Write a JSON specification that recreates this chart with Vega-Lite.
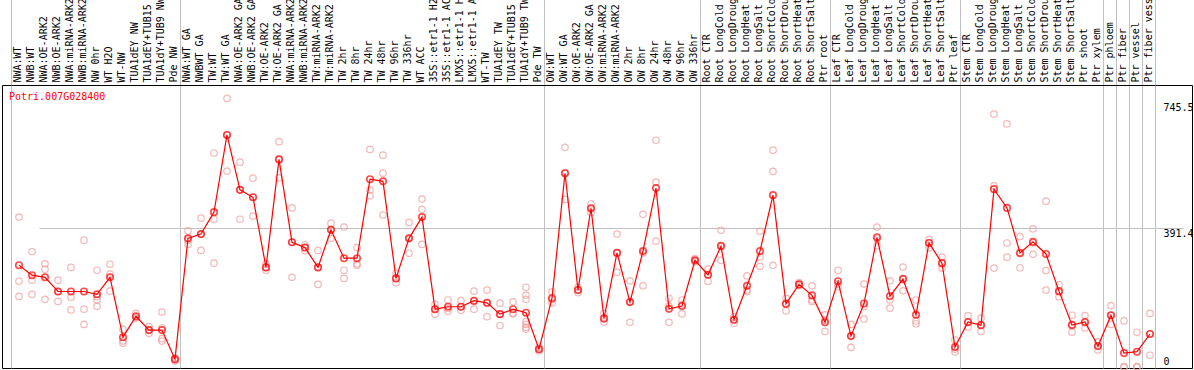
{
  "$schema": "https://vega.github.io/schema/vega-lite/v6.json",
  "autosize": "none",
  "padding": {"left": 2, "top": 85, "right": 2, "bottom": 2},
  "width": 1190,
  "height": 283,
  "background": "white",
  "config": {
    "view": {"stroke": "#000000", "strokeWidth": 1},
    "font": "DejaVu Sans Mono"
  },
  "datasets": {
    "means": [
      {"c": "NWA:WT", "v": 287}, {"c": "NWB:WT", "v": 259}, {"c": "NWA:OE-ARK2", "v": 253}, {"c": "NWB:OE-ARK2", "v": 213},
      {"c": "NWA:miRNA-ARK2", "v": 213}, {"c": "NWB:miRNA-ARK2", "v": 213}, {"c": "NW 0hr", "v": 205}, {"c": "WT H2O", "v": 253},
      {"c": "WT-NW", "v": 84}, {"c": "TUA1dEY NW", "v": 143}, {"c": "TUA1dEY+TUB15 NW", "v": 104}, {"c": "TUA1dY+TUB9 NW", "v": 104},
      {"c": "Pde NW", "v": 22}, {"c": "NWA:WT GA", "v": 363}, {"c": "NWBWT GA", "v": 375}, {"c": "TW:WT", "v": 437},
      {"c": "TW:WT GA", "v": 655}, {"c": "NWA:OE-ARK2 GA", "v": 500}, {"c": "NWB:OE-ARK2 GA", "v": 479}, {"c": "TW:OE-ARK2", "v": 281},
      {"c": "TW:OE-ARK2 GA", "v": 586}, {"c": "NWA:miRNA-ARK2 GA", "v": 352}, {"c": "NWB:miRNA-ARK2 GA", "v": 337}, {"c": "TW:miRNA-ARK2", "v": 281},
      {"c": "TW:miRNA-ARK2 GA", "v": 387}, {"c": "TW 2hr", "v": 307}, {"c": "TW 8hr", "v": 307}, {"c": "TW 24hr", "v": 530},
      {"c": "TW 48hr", "v": 524}, {"c": "TW 96hr", "v": 250}, {"c": "TW 336hr", "v": 363}, {"c": "WT ACC", "v": 423},
      {"c": "35S::etr1-1 H2O", "v": 163}, {"c": "35S::etr1-1 ACC", "v": 170}, {"c": "LMX5::etr1-1 H2O", "v": 170}, {"c": "LMX5::etr1-1 ACC", "v": 187},
      {"c": "WT-TW", "v": 181}, {"c": "TUA1dEY TW", "v": 149}, {"c": "TUA1dEY+TUB15 TW", "v": 163}, {"c": "TUA1dY+TUB9 TW", "v": 153},
      {"c": "Pde TW", "v": 50}, {"c": "OW:WT", "v": 194}, {"c": "OW:WT GA", "v": 547}, {"c": "OW:OE-ARK2", "v": 217},
      {"c": "OW:OE-ARK2 GA", "v": 448}, {"c": "OW:miRNA-ARK2", "v": 137}, {"c": "OW:miRNA-ARK2 GA", "v": 322}, {"c": "OW 2hr", "v": 183},
      {"c": "OW 8hr", "v": 327}, {"c": "OW 24hr", "v": 505}, {"c": "OW 48hr", "v": 164}, {"c": "OW 96hr", "v": 172},
      {"c": "OW 336hr", "v": 301}, {"c": "Root CTR", "v": 260}, {"c": "Root LongCold", "v": 341}, {"c": "Root LongDrought", "v": 133},
      {"c": "Root LongHeat", "v": 229}, {"c": "Root LongSalt", "v": 327}, {"c": "Root ShortCold", "v": 485}, {"c": "Root ShortDrought", "v": 178},
      {"c": "Root ShortHeat", "v": 233}, {"c": "Root ShortSalt", "v": 202}, {"c": "Ptr root", "v": 126}, {"c": "Leaf CTR", "v": 242},
      {"c": "Leaf LongCold", "v": 87}, {"c": "Leaf LongDrought", "v": 179}, {"c": "Leaf LongHeat", "v": 366}, {"c": "Leaf LongSalt", "v": 200},
      {"c": "Leaf ShortCold", "v": 248}, {"c": "Leaf ShortDrought", "v": 147}, {"c": "Leaf ShortHeat", "v": 350}, {"c": "Leaf ShortSalt", "v": 293},
      {"c": "Ptr leaf", "v": 56}, {"c": "Stem CTR", "v": 127}, {"c": "Stem LongCold", "v": 118}, {"c": "Stem LongDrought", "v": 502},
      {"c": "Stem LongHeat", "v": 449}, {"c": "Stem LongSalt", "v": 322}, {"c": "Stem ShortCold", "v": 353}, {"c": "Stem ShortDrought", "v": 319},
      {"c": "Stem ShortHeat", "v": 214}, {"c": "Stem ShortSalt", "v": 118}, {"c": "Ptr shoot", "v": 127}, {"c": "Ptr xylem", "v": 59},
      {"c": "Ptr phloem", "v": 146}, {"c": "Ptr fiber", "v": 39}, {"c": "Ptr vessel", "v": 43}, {"c": "Ptr fiber vessel", "v": 93}
    ],
    "reps": [
      {"c": "NWA:WT", "v": 423}, {"c": "NWA:WT", "v": 242}, {"c": "NWA:WT", "v": 199},
      {"c": "NWB:WT", "v": 326}, {"c": "NWB:WT", "v": 245}, {"c": "NWB:WT", "v": 205},
      {"c": "NWA:OE-ARK2", "v": 291}, {"c": "NWA:OE-ARK2", "v": 276}, {"c": "NWA:OE-ARK2", "v": 191},
      {"c": "NWB:OE-ARK2", "v": 245}, {"c": "NWB:OE-ARK2", "v": 213}, {"c": "NWB:OE-ARK2", "v": 185},
      {"c": "NWA:miRNA-ARK2", "v": 281}, {"c": "NWA:miRNA-ARK2", "v": 197}, {"c": "NWA:miRNA-ARK2", "v": 161},
      {"c": "NWB:miRNA-ARK2", "v": 358}, {"c": "NWB:miRNA-ARK2", "v": 163}, {"c": "NWB:miRNA-ARK2", "v": 120},
      {"c": "NW 0hr", "v": 273}, {"c": "NW 0hr", "v": 198}, {"c": "NW 0hr", "v": 189}, {"c": "NW 0hr", "v": 171},
      {"c": "WT H2O", "v": 290}, {"c": "WT H2O", "v": 262}, {"c": "WT H2O", "v": 214},
      {"c": "WT-NW", "v": 106}, {"c": "WT-NW", "v": 73}, {"c": "WT-NW", "v": 67},
      {"c": "TUA1dEY NW", "v": 151}, {"c": "TUA1dEY NW", "v": 140}, {"c": "TUA1dEY NW", "v": 138},
      {"c": "TUA1dEY+TUB15 NW", "v": 114}, {"c": "TUA1dEY+TUB15 NW", "v": 104}, {"c": "TUA1dEY+TUB15 NW", "v": 95},
      {"c": "TUA1dY+TUB9 NW", "v": 155}, {"c": "TUA1dY+TUB9 NW", "v": 110}, {"c": "TUA1dY+TUB9 NW", "v": 80}, {"c": "TUA1dY+TUB9 NW", "v": 73},
      {"c": "Pde NW", "v": 25}, {"c": "Pde NW", "v": 20}, {"c": "Pde NW", "v": 17},
      {"c": "NWA:WT GA", "v": 384}, {"c": "NWA:WT GA", "v": 358}, {"c": "NWA:WT GA", "v": 346},
      {"c": "NWBWT GA", "v": 420}, {"c": "NWBWT GA", "v": 375}, {"c": "NWBWT GA", "v": 329},
      {"c": "TW:WT", "v": 604}, {"c": "TW:WT", "v": 417}, {"c": "TW:WT", "v": 293},
      {"c": "TW:WT GA", "v": 758}, {"c": "TW:WT GA", "v": 655}, {"c": "TW:WT GA", "v": 553},
      {"c": "NWA:OE-ARK2 GA", "v": 578}, {"c": "NWA:OE-ARK2 GA", "v": 500}, {"c": "NWA:OE-ARK2 GA", "v": 417},
      {"c": "NWB:OE-ARK2 GA", "v": 533}, {"c": "NWB:OE-ARK2 GA", "v": 479}, {"c": "NWB:OE-ARK2 GA", "v": 426},
      {"c": "TW:OE-ARK2", "v": 291}, {"c": "TW:OE-ARK2", "v": 281}, {"c": "TW:OE-ARK2", "v": 273},
      {"c": "TW:OE-ARK2 GA", "v": 636}, {"c": "TW:OE-ARK2 GA", "v": 586}, {"c": "TW:OE-ARK2 GA", "v": 534},
      {"c": "NWA:miRNA-ARK2 GA", "v": 449}, {"c": "NWA:miRNA-ARK2 GA", "v": 352}, {"c": "NWA:miRNA-ARK2 GA", "v": 253},
      {"c": "NWB:miRNA-ARK2 GA", "v": 345}, {"c": "NWB:miRNA-ARK2 GA", "v": 337}, {"c": "NWB:miRNA-ARK2 GA", "v": 328},
      {"c": "TW:miRNA-ARK2", "v": 329}, {"c": "TW:miRNA-ARK2", "v": 281}, {"c": "TW:miRNA-ARK2", "v": 233},
      {"c": "TW:miRNA-ARK2 GA", "v": 406}, {"c": "TW:miRNA-ARK2 GA", "v": 387}, {"c": "TW:miRNA-ARK2 GA", "v": 363},
      {"c": "TW 2hr", "v": 395}, {"c": "TW 2hr", "v": 273}, {"c": "TW 2hr", "v": 250},
      {"c": "TW 8hr", "v": 337}, {"c": "TW 8hr", "v": 291}, {"c": "TW 8hr", "v": 287},
      {"c": "TW 24hr", "v": 614}, {"c": "TW 24hr", "v": 500}, {"c": "TW 24hr", "v": 483},
      {"c": "TW 48hr", "v": 598}, {"c": "TW 48hr", "v": 547}, {"c": "TW 48hr", "v": 429},
      {"c": "TW 96hr", "v": 264}, {"c": "TW 96hr", "v": 250}, {"c": "TW 96hr", "v": 238},
      {"c": "TW 336hr", "v": 408}, {"c": "TW 336hr", "v": 363}, {"c": "TW 336hr", "v": 321},
      {"c": "WT ACC", "v": 474}, {"c": "WT ACC", "v": 445}, {"c": "WT ACC", "v": 346},
      {"c": "35S::etr1-1 H2O", "v": 177}, {"c": "35S::etr1-1 H2O", "v": 163}, {"c": "35S::etr1-1 H2O", "v": 149},
      {"c": "35S::etr1-1 ACC", "v": 189}, {"c": "35S::etr1-1 ACC", "v": 165}, {"c": "35S::etr1-1 ACC", "v": 157},
      {"c": "LMX5::etr1-1 H2O", "v": 187}, {"c": "LMX5::etr1-1 H2O", "v": 170}, {"c": "LMX5::etr1-1 H2O", "v": 160},
      {"c": "LMX5::etr1-1 ACC", "v": 214}, {"c": "LMX5::etr1-1 ACC", "v": 185}, {"c": "LMX5::etr1-1 ACC", "v": 163},
      {"c": "WT-TW", "v": 217}, {"c": "WT-TW", "v": 180}, {"c": "WT-TW", "v": 142},
      {"c": "TUA1dEY TW", "v": 180}, {"c": "TUA1dEY TW", "v": 149}, {"c": "TUA1dEY TW", "v": 117},
      {"c": "TUA1dEY+TUB15 TW", "v": 184}, {"c": "TUA1dEY+TUB15 TW", "v": 152}, {"c": "TUA1dEY+TUB15 TW", "v": 150},
      {"c": "TUA1dY+TUB9 TW", "v": 225}, {"c": "TUA1dY+TUB9 TW", "v": 203}, {"c": "TUA1dY+TUB9 TW", "v": 191}, {"c": "TUA1dY+TUB9 TW", "v": 128},
      {"c": "TUA1dY+TUB9 TW", "v": 120}, {"c": "TUA1dY+TUB9 TW", "v": 112}, {"c": "TUA1dY+TUB9 TW", "v": 107},
      {"c": "Pde TW", "v": 55}, {"c": "Pde TW", "v": 50}, {"c": "Pde TW", "v": 45},
      {"c": "OW:WT", "v": 212}, {"c": "OW:WT", "v": 190}, {"c": "OW:WT", "v": 180},
      {"c": "OW:WT GA", "v": 620}, {"c": "OW:WT GA", "v": 547}, {"c": "OW:WT GA", "v": 473},
      {"c": "OW:OE-ARK2", "v": 225}, {"c": "OW:OE-ARK2", "v": 217}, {"c": "OW:OE-ARK2", "v": 210},
      {"c": "OW:OE-ARK2 GA", "v": 460}, {"c": "OW:OE-ARK2 GA", "v": 448}, {"c": "OW:OE-ARK2 GA", "v": 436},
      {"c": "OW:miRNA-ARK2", "v": 151}, {"c": "OW:miRNA-ARK2", "v": 135}, {"c": "OW:miRNA-ARK2", "v": 127},
      {"c": "OW:miRNA-ARK2 GA", "v": 375}, {"c": "OW:miRNA-ARK2 GA", "v": 322}, {"c": "OW:miRNA-ARK2 GA", "v": 267},
      {"c": "OW 2hr", "v": 243}, {"c": "OW 2hr", "v": 183}, {"c": "OW 2hr", "v": 126},
      {"c": "OW 8hr", "v": 431}, {"c": "OW 8hr", "v": 322}, {"c": "OW 8hr", "v": 229},
      {"c": "OW 24hr", "v": 640}, {"c": "OW 24hr", "v": 522}, {"c": "OW 24hr", "v": 355},
      {"c": "OW 48hr", "v": 194}, {"c": "OW 48hr", "v": 172}, {"c": "OW 48hr", "v": 126},
      {"c": "OW 96hr", "v": 189}, {"c": "OW 96hr", "v": 176}, {"c": "OW 96hr", "v": 150},
      {"c": "OW 336hr", "v": 306}, {"c": "OW 336hr", "v": 300}, {"c": "OW 336hr", "v": 297},
      {"c": "Root CTR", "v": 276}, {"c": "Root CTR", "v": 260}, {"c": "Root CTR", "v": 242},
      {"c": "Root LongCold", "v": 386}, {"c": "Root LongCold", "v": 343}, {"c": "Root LongCold", "v": 301},
      {"c": "Root LongDrought", "v": 141}, {"c": "Root LongDrought", "v": 133}, {"c": "Root LongDrought", "v": 123},
      {"c": "Root LongHeat", "v": 257}, {"c": "Root LongHeat", "v": 217}, {"c": "Root LongHeat", "v": 212},
      {"c": "Root LongSalt", "v": 383}, {"c": "Root LongSalt", "v": 311}, {"c": "Root LongSalt", "v": 284},
      {"c": "Root ShortCold", "v": 612}, {"c": "Root ShortCold", "v": 552}, {"c": "Root ShortCold", "v": 287},
      {"c": "Root ShortDrought", "v": 194}, {"c": "Root ShortDrought", "v": 180}, {"c": "Root ShortDrought", "v": 158},
      {"c": "Root ShortHeat", "v": 238}, {"c": "Root ShortHeat", "v": 233}, {"c": "Root ShortHeat", "v": 229},
      {"c": "Root ShortSalt", "v": 229}, {"c": "Root ShortSalt", "v": 189}, {"c": "Root ShortSalt", "v": 185},
      {"c": "Ptr root", "v": 147}, {"c": "Ptr root", "v": 132}, {"c": "Ptr root", "v": 100},
      {"c": "Leaf CTR", "v": 273}, {"c": "Leaf CTR", "v": 234}, {"c": "Leaf CTR", "v": 227},
      {"c": "Leaf LongCold", "v": 120}, {"c": "Leaf LongCold", "v": 88}, {"c": "Leaf LongCold", "v": 55},
      {"c": "Leaf LongDrought", "v": 234}, {"c": "Leaf LongDrought", "v": 170}, {"c": "Leaf LongDrought", "v": 135},
      {"c": "Leaf LongHeat", "v": 395}, {"c": "Leaf LongHeat", "v": 362}, {"c": "Leaf LongHeat", "v": 342},
      {"c": "Leaf LongSalt", "v": 243}, {"c": "Leaf LongSalt", "v": 189}, {"c": "Leaf LongSalt", "v": 166},
      {"c": "Leaf ShortCold", "v": 282}, {"c": "Leaf ShortCold", "v": 250}, {"c": "Leaf ShortCold", "v": 215},
      {"c": "Leaf ShortDrought", "v": 189}, {"c": "Leaf ShortDrought", "v": 130}, {"c": "Leaf ShortDrought", "v": 122},
      {"c": "Leaf ShortHeat", "v": 360}, {"c": "Leaf ShortHeat", "v": 350}, {"c": "Leaf ShortHeat", "v": 336},
      {"c": "Leaf ShortSalt", "v": 310}, {"c": "Leaf ShortSalt", "v": 293}, {"c": "Leaf ShortSalt", "v": 279},
      {"c": "Ptr leaf", "v": 76}, {"c": "Ptr leaf", "v": 50}, {"c": "Ptr leaf", "v": 42},
      {"c": "Stem CTR", "v": 145}, {"c": "Stem CTR", "v": 125}, {"c": "Stem CTR", "v": 112},
      {"c": "Stem LongCold", "v": 138}, {"c": "Stem LongCold", "v": 118}, {"c": "Stem LongCold", "v": 100},
      {"c": "Stem LongDrought", "v": 714}, {"c": "Stem LongDrought", "v": 511}, {"c": "Stem LongDrought", "v": 279},
      {"c": "Stem LongHeat", "v": 686}, {"c": "Stem LongHeat", "v": 350}, {"c": "Stem LongHeat", "v": 310},
      {"c": "Stem LongSalt", "v": 368}, {"c": "Stem LongSalt", "v": 320}, {"c": "Stem LongSalt", "v": 280},
      {"c": "Stem ShortCold", "v": 390}, {"c": "Stem ShortCold", "v": 350}, {"c": "Stem ShortCold", "v": 318},
      {"c": "Stem ShortDrought", "v": 468}, {"c": "Stem ShortDrought", "v": 272}, {"c": "Stem ShortDrought", "v": 217},
      {"c": "Stem ShortHeat", "v": 232}, {"c": "Stem ShortHeat", "v": 212}, {"c": "Stem ShortHeat", "v": 198},
      {"c": "Stem ShortSalt", "v": 146}, {"c": "Stem ShortSalt", "v": 120}, {"c": "Stem ShortSalt", "v": 98},
      {"c": "Ptr shoot", "v": 145}, {"c": "Ptr shoot", "v": 125}, {"c": "Ptr shoot", "v": 110},
      {"c": "Ptr xylem", "v": 71}, {"c": "Ptr xylem", "v": 59}, {"c": "Ptr xylem", "v": 48},
      {"c": "Ptr phloem", "v": 173}, {"c": "Ptr phloem", "v": 145}, {"c": "Ptr phloem", "v": 120},
      {"c": "Ptr fiber", "v": 130}, {"c": "Ptr fiber", "v": 0}, {"c": "Ptr fiber", "v": 0},
      {"c": "Ptr vessel", "v": 98}, {"c": "Ptr vessel", "v": 0}, {"c": "Ptr vessel", "v": 0},
      {"c": "Ptr fiber vessel", "v": 151}, {"c": "Ptr fiber vessel", "v": 93}, {"c": "Ptr fiber vessel", "v": 33}
    ]
  },
  "encoding": {
    "x": {
      "field": "c",
      "type": "nominal",
      "bandPosition": 0.615,
      "scale": {
        "type": "band",
        "paddingInner": 0,
        "paddingOuter": 0,
        "range": [9, 1153],
        "domain": ["NWA:WT", "NWB:WT", "NWA:OE-ARK2", "NWB:OE-ARK2", "NWA:miRNA-ARK2", "NWB:miRNA-ARK2", "NW 0hr", "WT H2O", "WT-NW", "TUA1dEY NW", "TUA1dEY+TUB15 NW", "TUA1dY+TUB9 NW", "Pde NW", "NWA:WT GA", "NWBWT GA", "TW:WT", "TW:WT GA", "NWA:OE-ARK2 GA", "NWB:OE-ARK2 GA", "TW:OE-ARK2", "TW:OE-ARK2 GA", "NWA:miRNA-ARK2 GA", "NWB:miRNA-ARK2 GA", "TW:miRNA-ARK2", "TW:miRNA-ARK2 GA", "TW 2hr", "TW 8hr", "TW 24hr", "TW 48hr", "TW 96hr", "TW 336hr", "WT ACC", "35S::etr1-1 H2O", "35S::etr1-1 ACC", "LMX5::etr1-1 H2O", "LMX5::etr1-1 ACC", "WT-TW", "TUA1dEY TW", "TUA1dEY+TUB15 TW", "TUA1dY+TUB9 TW", "Pde TW", "OW:WT", "OW:WT GA", "OW:OE-ARK2", "OW:OE-ARK2 GA", "OW:miRNA-ARK2", "OW:miRNA-ARK2 GA", "OW 2hr", "OW 8hr", "OW 24hr", "OW 48hr", "OW 96hr", "OW 336hr", "Root CTR", "Root LongCold", "Root LongDrought", "Root LongHeat", "Root LongSalt", "Root ShortCold", "Root ShortDrought", "Root ShortHeat", "Root ShortSalt", "Ptr root", "Leaf CTR", "Leaf LongCold", "Leaf LongDrought", "Leaf LongHeat", "Leaf LongSalt", "Leaf ShortCold", "Leaf ShortDrought", "Leaf ShortHeat", "Leaf ShortSalt", "Ptr leaf", "Stem CTR", "Stem LongCold", "Stem LongDrought", "Stem LongHeat", "Stem LongSalt", "Stem ShortCold", "Stem ShortDrought", "Stem ShortHeat", "Stem ShortSalt", "Ptr shoot", "Ptr xylem", "Ptr phloem", "Ptr fiber", "Ptr vessel", "Ptr fiber vessel"]
      },
      "axis": {
        "orient": "top",
        "title": null,
        "labelAngle": -90,
        "labelFont": "DejaVu Sans Mono",
        "labelFontSize": 10,
        "labelColor": "#000000",
        "labelPadding": -83,
        "labelOverlap": false,
        "labelLimit": 400,
        "domain": true,
        "domainColor": "#000000",
        "tickBand": "extent",
        "tickSize": 86,
        "tickColor": "#c0c0c0",
        "tickOpacity": {"condition": {"test": "datum.extra || indexof(['Pde NW','Pde TW','OW 336hr','Ptr root','Ptr leaf','Ptr xylem','Ptr phloem','Ptr fiber','Ptr vessel','Ptr fiber vessel'], datum.value) >= 0", "value": 1}, "value": 0},
        "grid": true,
        "gridColor": "#c0c0c0",
        "gridOpacity": {"condition": {"test": "datum.extra || indexof(['Pde NW','Pde TW','OW 336hr','Ptr root','Ptr leaf','Ptr xylem','Ptr phloem','Ptr fiber','Ptr vessel','Ptr fiber vessel'], datum.value) >= 0", "value": 1}, "value": 0}
      }
    },
    "y": {
      "field": "v",
      "type": "quantitative",
      "scale": {"domain": [-3, 796], "nice": false, "zero": false},
      "axis": {
        "orient": "right",
        "title": null,
        "values": [0, 391.4, 745.5],
        "labelExpr": "'' + datum.value",
        "labelFont": "DejaVu Sans Mono",
        "labelFontSize": 10,
        "labelColor": "#000000",
        "labelAlign": "left",
        "labelPadding": -29,
        "labelBaseline": {"condition": {"test": "datum.value == 0", "value": "bottom"}, "value": "top"},
        "domain": false,
        "ticks": false,
        "grid": true,
        "gridColor": "#c0c0c0",
        "gridOpacity": {"condition": {"test": "datum.value == 391.4", "value": 1}, "value": 0}
      }
    }
  },
  "layer": [
    {
      "data": {"name": "reps"},
      "mark": {"type": "point", "shape": "circle", "filled": false, "stroke": "#f09a9a", "strokeWidth": 1.2, "size": 42}
    },
    {
      "data": {"name": "means"},
      "mark": {"type": "line", "color": "#ff0000", "strokeWidth": 1.2},
      "encoding": {"order": {"value": null}}
    },
    {
      "data": {"name": "means"},
      "mark": {"type": "point", "shape": "circle", "filled": false, "stroke": "#ff0000", "strokeWidth": 1.6, "size": 42}
    },
    {
      "data": {"name": "means"},
      "transform": [{"filter": "datum.c == 'NWA:WT'"}],
      "mark": {"type": "text", "align": "left", "baseline": "middle", "dx": -10, "fill": "#ff0000", "font": "DejaVu Sans Mono", "fontSize": 10},
      "encoding": {
        "y": {"datum": 762, "type": "quantitative"},
        "text": {"value": "Potri.007G028400"}
      }
    }
  ]
}
